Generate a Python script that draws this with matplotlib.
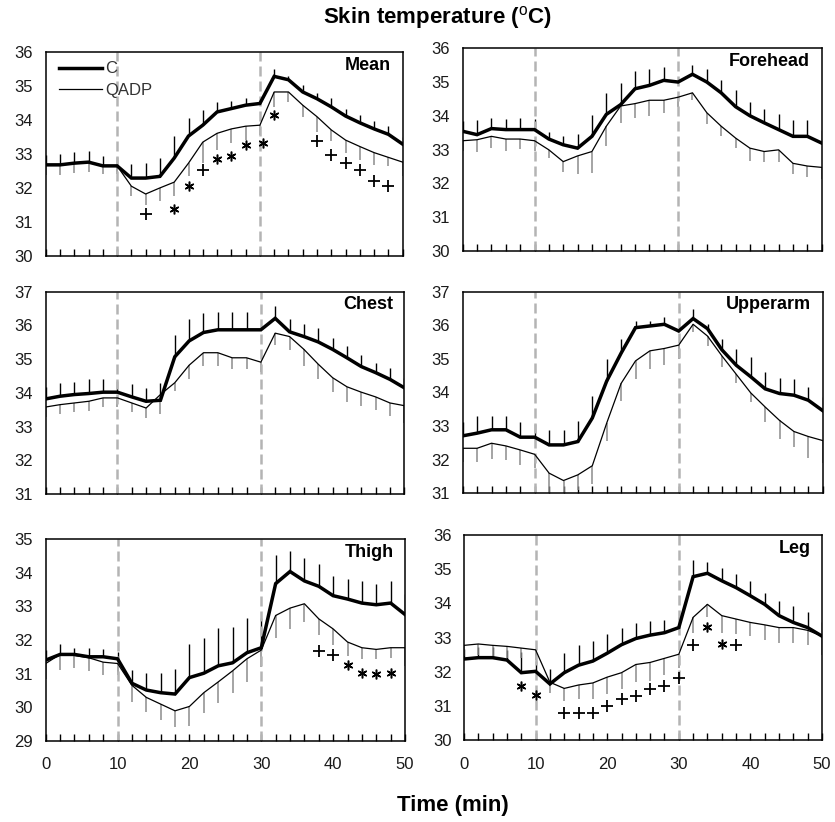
import numpy as np
import matplotlib
matplotlib.use("Agg")
import matplotlib.pyplot as plt
from matplotlib.ticker import MultipleLocator, FixedLocator, NullFormatter

plt.rcParams['font.family'] = ['Liberation Sans', 'DejaVu Sans']
plt.rcParams['mathtext.fontset'] = 'custom'
plt.rcParams['mathtext.rm'] = 'Liberation Sans'
plt.rcParams['mathtext.bf'] = 'Liberation Sans:bold'

# ---- data: time axis (min) ----
time = np.arange(0, 51, 2)

# Mean skin temperature
mean_c = [32.68, 32.68, 32.73, 32.76, 32.65, 32.65, 32.29, 32.29, 32.34, 32.88, 33.53, 33.85, 34.24,
          34.34, 34.44, 34.49, 35.29, 35.19, 34.83, 34.63, 34.39, 34.12, 33.92, 33.74, 33.58, 33.29]
mean_c_sd = [0.3, 0.32, 0.32, 0.32, 0.3, 0.25, 0.41, 0.44, 0.54, 0.65, 0.52, 0.46, 0.29,
             0.23, 0.22, 0.0, 0.22, 0.1, 0.2, 0.18, 0.25, 0.2, 0.22, 0.24, 0.25, 0.2]
mean_q = [32.68, 32.68, 32.73, 32.76, 32.65, 32.65, 32.05, 31.82, 32.0, 32.17, 32.73, 33.35, 33.61,
          33.74, 33.82, 33.85, 34.83, 34.83, 34.44, 34.1, 33.71, 33.41, 33.22, 33.04, 32.9, 32.76]
mean_q_sd = [0.3, 0.3, 0.3, 0.3, 0.25, 0.25, 0.29, 0.31, 0.39, 0.41, 0.39, 0.61, 0.49,
             0.42, 0.41, 0.3, 0.44, 0.3, 0.35, 0.44, 0.34, 0.39, 0.39, 0.36, 0.26, 0.42]
mean_sig_x = [14, 18, 20, 22, 24, 26, 28, 30.4, 32, 38, 40, 42, 44, 46, 48]
mean_sig_y = [31.22, 31.37, 32.05, 32.54, 32.85, 32.95, 33.27, 33.32, 34.15, 33.37, 32.98, 32.73, 32.54, 32.2, 32.05]
mean_sig_mark = ['+', '*', '*', '+', '*', '*', '*', '*', '*', '+', '+', '+', '+', '+', '+']

# Forehead
fore_c = [33.54, 33.44, 33.62, 33.59, 33.59, 33.59, 33.31, 33.14, 33.04, 33.39, 34.04, 34.33, 34.8,
          34.9, 35.05, 35.0, 35.23, 35.0, 34.68, 34.27, 34.0, 33.79, 33.59, 33.39, 33.39, 33.19]
fore_c_sd = [0.3, 0.42, 0.32, 0.32, 0.35, 0.3, 0.2, 0.27, 0.42, 0.62, 0.63, 0.65, 0.53,
             0.5, 0.41, 0.0, 0.28, 0.38, 0.38, 0.49, 0.4, 0.4, 0.45, 0.48, 0.48, 0.4]
fore_q = [33.26, 33.29, 33.39, 33.31, 33.31, 33.26, 32.99, 32.64, 32.81, 32.94, 33.69, 34.29, 34.36,
          34.46, 34.46, 34.55, 34.68, 34.09, 33.69, 33.34, 33.04, 32.94, 32.99, 32.59, 32.51, 32.47]
fore_q_sd = [0.3, 0.35, 0.35, 0.34, 0.3, 0.3, 0.25, 0.3, 0.54, 0.63, 0.6, 0.5, 0.43,
             0.46, 0.38, 0.3, 0.2, 0.32, 0.3, 0.3, 0.37, 0.3, 0.35, 0.32, 0.32, 0.33]

# Chest
chest_c = [33.82, 33.9, 33.95, 33.98, 34.02, 34.02, 33.88, 33.75, 33.78, 35.07, 35.54, 35.79, 35.87,
           35.87, 35.87, 35.87, 36.21, 35.81, 35.67, 35.51, 35.29, 35.04, 34.78, 34.6, 34.4, 34.15]
chest_c_sd = [0.35, 0.38, 0.37, 0.42, 0.38, 0.33, 0.39, 0.38, 0.5, 0.66, 0.65, 0.58, 0.54,
              0.54, 0.54, 0.0, 0.38, 0.38, 0.37, 0.4, 0.35, 0.35, 0.35, 0.3, 0.35, 0.3]
chest_q = [33.58, 33.65, 33.7, 33.75, 33.85, 33.85, 33.7, 33.55, 33.95, 34.3, 34.82, 35.19, 35.19,
           35.04, 35.04, 34.91, 35.77, 35.67, 35.29, 34.85, 34.45, 34.18, 34.02, 33.88, 33.7, 33.62]
chest_q_sd = [0.3, 0.27, 0.28, 0.3, 0.27, 0.27, 0.28, 0.3, 0.57, 0.25, 0.4, 0.38, 0.38,
              0.33, 0.33, 0.3, 0.36, 0.4, 0.48, 0.43, 0.43, 0.46, 0.42, 0.4, 0.4, 0.5]

# Upper arm
arm_c = [32.71, 32.79, 32.89, 32.89, 32.67, 32.67, 32.44, 32.44, 32.54, 33.24, 34.34, 35.17, 35.93,
         35.98, 36.03, 35.83, 36.2, 35.9, 35.27, 34.81, 34.47, 34.11, 33.97, 33.92, 33.77, 33.46]
arm_c_sd = [0.4, 0.52, 0.42, 0.42, 0.44, 0.4, 0.45, 0.45, 0.6, 0.65, 0.65, 0.42, 0.2,
            0.15, 0.23, 0.0, 0.28, 0.13, 0.32, 0.48, 0.6, 0.5, 0.45, 0.47, 0.4, 0.4]
arm_q = [32.34, 32.34, 32.49, 32.41, 32.29, 32.16, 31.6, 31.38, 31.55, 31.82, 33.09, 34.27, 34.94,
         35.24, 35.31, 35.41, 36.03, 35.68, 35.09, 34.54, 33.99, 33.57, 33.17, 32.84, 32.69, 32.57]
arm_q_sd = [0.4, 0.4, 0.48, 0.42, 0.45, 0.4, 0.6, 0.38, 0.45, 0.55, 0.52, 0.53, 0.53,
            0.53, 0.5, 0.4, 0.23, 0.3, 0.32, 0.27, 0.28, 0.46, 0.56, 0.45, 0.65, 0.66]

# Thigh
thigh_c = [31.4, 31.57, 31.57, 31.5, 31.5, 31.44, 30.71, 30.51, 30.43, 30.39, 30.88, 31.01, 31.23,
           31.32, 31.62, 31.77, 33.68, 34.04, 33.76, 33.6, 33.32, 33.22, 33.1, 33.05, 33.1, 32.76]
thigh_c_sd = [0.3, 0.3, 0.2, 0.27, 0.22, 0.2, 0.4, 0.51, 0.59, 0.76, 0.99, 1.06, 1.14,
              1.07, 1.04, 0.9, 0.86, 0.62, 0.67, 0.67, 0.59, 0.59, 0.66, 0.62, 0.67, 0.6]
thigh_q = [31.3, 31.57, 31.54, 31.47, 31.34, 31.3, 30.65, 30.29, 30.09, 29.89, 30.02, 30.43, 30.75,
           31.08, 31.44, 31.7, 32.73, 32.95, 33.08, 32.63, 32.33, 31.94, 31.77, 31.72, 31.77, 31.77]
thigh_q_sd = [0.45, 0.46, 0.37, 0.4, 0.37, 0.35, 0.49, 0.44, 0.46, 0.49, 0.57, 0.59, 0.63,
              0.66, 0.69, 0.5, 0.66, 0.62, 0.55, 0.47, 0.47, 0.42, 0.33, 0.3, 0.3, 0.54]
thigh_sig_x = [38, 40, 42, 44, 46, 48]
thigh_sig_y = [31.67, 31.54, 31.27, 31.01, 30.98, 31.01]
thigh_sig_mark = ['+', '+', '*', '*', '*', '*']

# Leg
leg_c = [32.37, 32.41, 32.41, 32.34, 31.97, 32.01, 31.64, 31.97, 32.19, 32.31, 32.54, 32.79, 32.97,
         33.07, 33.14, 33.29, 34.78, 34.88, 34.66, 34.46, 34.22, 33.97, 33.64, 33.44, 33.29, 33.04]
leg_c_sd = [0.3, 0.3, 0.3, 0.3, 0.6, 0.3, 0.43, 0.57, 0.6, 0.58, 0.57, 0.5, 0.44,
            0.4, 0.37, 0.3, 0.5, 0.32, 0.37, 0.4, 0.42, 0.34, 0.43, 0.47, 0.45, 0.4]
leg_q = [32.77, 32.81, 32.77, 32.74, 32.69, 32.64, 31.69, 31.51, 31.61, 31.67, 31.84, 31.97, 32.21,
         32.27, 32.39, 32.51, 33.59, 33.97, 33.64, 33.54, 33.44, 33.37, 33.29, 33.29, 33.21, 33.04]
leg_q_sd = [0.3, 0.32, 0.33, 0.35, 0.3, 0.3, 0.3, 0.37, 0.42, 0.48, 0.5, 0.48, 0.52,
            0.53, 0.5, 0.4, 0.45, 0.38, 0.5, 0.45, 0.4, 0.43, 0.45, 0.45, 0.42, 0.55]
leg_sig_x = [8, 10, 14, 16, 18, 20, 22, 24, 26, 28, 30, 32, 34, 36, 38]
leg_sig_y = [31.59, 31.31, 30.8, 30.8, 30.8, 31.0, 31.21, 31.29, 31.49, 31.59, 31.81, 32.79, 33.31, 32.81, 32.79]
leg_sig_mark = ['*', '*', '+', '+', '+', '+', '+', '+', '+', '+', '+', '+', '*', '*', '+']

phase_marks = [10, 30]
x_labels = [0, 10, 20, 30, 40, 50]

panels = [
    dict(name='Mean', c=mean_c, csd=mean_c_sd, q=mean_q, qsd=mean_q_sd, ylim=(30, 36),
         sig=(mean_sig_x, mean_sig_y, mean_sig_mark), px=(45.7, 402.7, 52.3, 255.7)),
    dict(name='Forehead', c=fore_c, csd=fore_c_sd, q=fore_q, qsd=fore_q_sd, ylim=(30, 36),
         sig=None, px=(462.7, 821.7, 48.3, 250.7)),
    dict(name='Chest', c=chest_c, csd=chest_c_sd, q=chest_q, qsd=chest_q_sd, ylim=(31, 37),
         sig=None, px=(45.7, 404.3, 291.7, 494.0)),
    dict(name='Upperarm', c=arm_c, csd=arm_c_sd, q=arm_q, qsd=arm_q_sd, ylim=(31, 37),
         sig=None, px=(462.7, 822.7, 291.7, 493.3)),
    dict(name='Thigh', c=thigh_c, csd=thigh_c_sd, q=thigh_q, qsd=thigh_q_sd, ylim=(29, 35),
         sig=(thigh_sig_x, thigh_sig_y, thigh_sig_mark), px=(45.7, 405.0, 539.3, 740.7)),
    dict(name='Leg', c=leg_c, csd=leg_c_sd, q=leg_q, qsd=leg_q_sd, ylim=(30, 36),
         sig=(leg_sig_x, leg_sig_y, leg_sig_mark), px=(464.0, 822.0, 535.0, 740.0)),
]

W, H = 835, 822
fig = plt.figure(figsize=(W / 100, H / 100), dpi=100)

for i, p in enumerate(panels):
    x0, x1, y0, y1 = p['px']
    ax = fig.add_axes([x0 / W, 1 - y1 / H, (x1 - x0) / W, (y1 - y0) / H])
    c = np.array(p['c']); q = np.array(p['q'])
    csd = np.array(p['csd']); qsd = np.array(p['qsd'])

    # error bars: control upward (black), QADP downward (gray)
    ax.vlines(time, c, c + csd, colors='black', lw=1.0, zorder=2)
    ax.vlines(time, q - qsd, q, colors='#8c8c8c', lw=1.1, zorder=2)

    l1, = ax.plot(time, c, color='black', lw=2.5, zorder=4, label='C',
                  solid_joinstyle='miter')
    l2, = ax.plot(time, q, color='black', lw=0.9, zorder=4, label='QADP')

    for xv in phase_marks:
        ax.axvline(xv, color='#b4b4b4', lw=1.8, ls=(0, (4, 2)), zorder=3)

    if p['sig'] is not None:
        sx, sy, sm = p['sig']
        for xs, ys, ms in zip(sx, sy, sm):
            if ms == '+':
                ax.plot(xs, ys, marker='+', ms=8, mew=1.3, color='black', zorder=5,
                        clip_on=False)
            else:
                ax.plot(xs, ys, marker=(6, 2, 0), ms=7, mew=1.1, color='black', zorder=5,
                        clip_on=False)

    ax.set_xlim(0, 50)
    ax.set_ylim(*p['ylim'])
    ax.yaxis.set_major_locator(MultipleLocator(1))
    ax.tick_params(axis='y', length=0, pad=9, labelsize=12, labelcolor='#1a1a1a')
    ax.xaxis.set_major_locator(FixedLocator(x_labels))
    ax.xaxis.set_minor_locator(MultipleLocator(2))
    ax.tick_params(axis='x', which='both', direction='in', length=5, width=1.0,
                   pad=12, labelsize=12, labelcolor='#1a1a1a')
    if i < 4:
        ax.xaxis.set_major_formatter(NullFormatter())
    for sp in ax.spines.values():
        sp.set_linewidth(1.1)
        sp.set_zorder(6)

    ax.text(0.968, 0.935, p['name'], transform=ax.transAxes, ha='right', va='center',
            fontsize=13, fontweight='bold')

    if i == 0:
        ax.legend(handles=[l1, l2], loc='upper left', bbox_to_anchor=(0.036, 0.955),
                  frameon=False, fontsize=12, handlelength=2.6, handletextpad=0.2,
                  borderpad=0, borderaxespad=0, labelspacing=0.38, labelcolor='#333333')

fig.text(438 / W, 1 - 18 / H, r'Skin temperature ($^{\mathrm{o}}$C)', ha='center', va='center',
         fontsize=16, fontweight='bold')
fig.text(453 / W, 1 - 805 / H, 'Time (min)', ha='center', va='center',
         fontsize=16, fontweight='bold')

fig.savefig('out.png', dpi=100)
